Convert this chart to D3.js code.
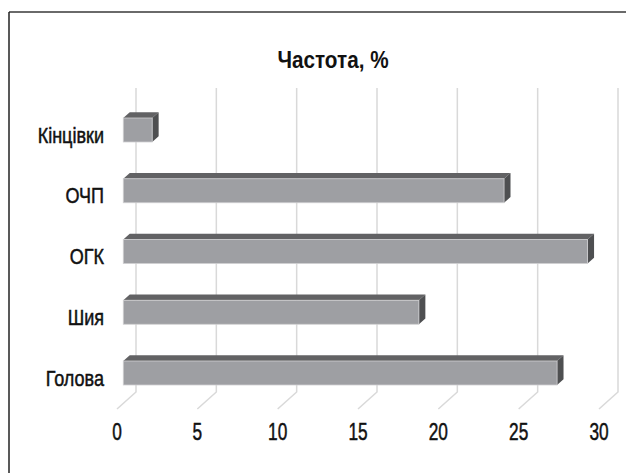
<!DOCTYPE html>
<meta charset="utf-8">
<style>
  body { margin: 0; background: #fff; }
  svg text { font-family: "Liberation Sans", Arial, sans-serif; fill: #111; }
  .lbl { stroke: #111; stroke-width: 0.5px; }
</style>
<body>
<svg width="626" height="473"></svg>
<script src="https://cdn.jsdelivr.net/npm/d3@7/dist/d3.min.js"></script>
<script>

// data
var categories = ["Кінцівки", "ОЧП", "ОГК", "Шия", "Голова"];
var values = [1.8, 23.7, 28.9, 18.4, 27.0];
var ticks = [0, 5, 10, 15, 20, 25, 30];
var title = "Частота, %";

var svg = d3.select("svg");

// back wall x scale and category rows
var x = d3.scaleLinear().domain([0, 30]).range([136, 618]);
var y = d3.scalePoint().domain(categories).range([130, 373]);

var barH = 24,
    depth = {dx: -19, dy: 17},   // full floor depth
    frontK = 0.67, backK = 0.33, // where the bar sits inside that depth
    wallTop = 88, wallBottom = 392;

// the text in the picture is narrow, squeeze it horizontally
function at(px, py, k) { return "translate(" + px + "," + py + ") scale(" + k + ",1)"; }

// outer frame (top + left only)
svg.append("line").attr("x1", 9).attr("y1", 12).attr("x2", 626).attr("y2", 12)
    .attr("stroke", "#6a6a6a").attr("stroke-width", 2);
svg.append("line").attr("x1", 9).attr("y1", 12).attr("x2", 9).attr("y2", 473)
    .attr("stroke", "#222").attr("stroke-width", 1.5);

// title
svg.append("text")
    .attr("transform", at(333, 68, 0.9))
    .attr("text-anchor", "middle")
    .style("font-size", "23px").style("font-weight", "bold")
    .text(title);

// gridlines on the back wall, running onto the floor
svg.append("g").selectAll("polyline")
    .data(ticks)
    .enter().append("polyline")
      .attr("fill", "none")
      .attr("stroke", "#d9d9d9")
      .attr("stroke-width", 1.5)
      .attr("points", function(d) {
        return [[x(d), wallTop], [x(d), wallBottom], [x(d) + depth.dx, wallBottom + depth.dy]].join(" ");
      });

// tick labels at the front edge of the floor
svg.append("g").selectAll("text")
    .data(ticks)
    .enter().append("text")
      .attr("class", "lbl")
      .attr("transform", function(d) { return at(x(d) + depth.dx, 440, 0.72); })
      .attr("text-anchor", "middle")
      .style("font-size", "24px")
      .text(function(d) { return d; });

// category labels
svg.append("g").selectAll("text")
    .data(categories)
    .enter().append("text")
      .attr("class", "lbl")
      .attr("transform", function(d) { return at(104, y(d) + 12.5, 0.82); })
      .attr("text-anchor", "end")
      .style("font-size", "22px")
      .text(function(d) { return d; });

// 3d bars
var fx = depth.dx * frontK, bx = depth.dx * backK,
    sx = bx - fx, sy = depth.dy * backK - depth.dy * frontK;

var bars = svg.append("g").selectAll("g")
    .data(categories.map(function(c, i) { return {cat: c, val: values[i]}; }))
    .enter().append("g");

// top face
bars.append("polygon")
    .attr("fill", "#626264")
    .attr("points", function(d) {
      var x0 = x(0) + fx, x1 = x(d.val) + fx, t = y(d.cat) - barH / 2;
      return [[x0, t], [x0 + sx, t + sy], [x1 + sx, t + sy], [x1, t]].join(" ");
    });

// side face
bars.append("polygon")
    .attr("fill", "#4e4f51")
    .attr("points", function(d) {
      var x1 = x(d.val) + fx, t = y(d.cat) - barH / 2, b = t + barH;
      return [[x1, t], [x1 + sx, t + sy], [x1 + sx, b + sy], [x1, b]].join(" ");
    });

// front face
bars.append("rect")
    .attr("fill", "#9e9fa3")
    .attr("stroke", "#cfcfd1")
    .attr("stroke-width", 0.8)
    .attr("x", x(0) + fx)
    .attr("y", function(d) { return y(d.cat) - barH / 2; })
    .attr("width", function(d) { return x(d.val) - x(0); })
    .attr("height", barH);

</script>
</body>
